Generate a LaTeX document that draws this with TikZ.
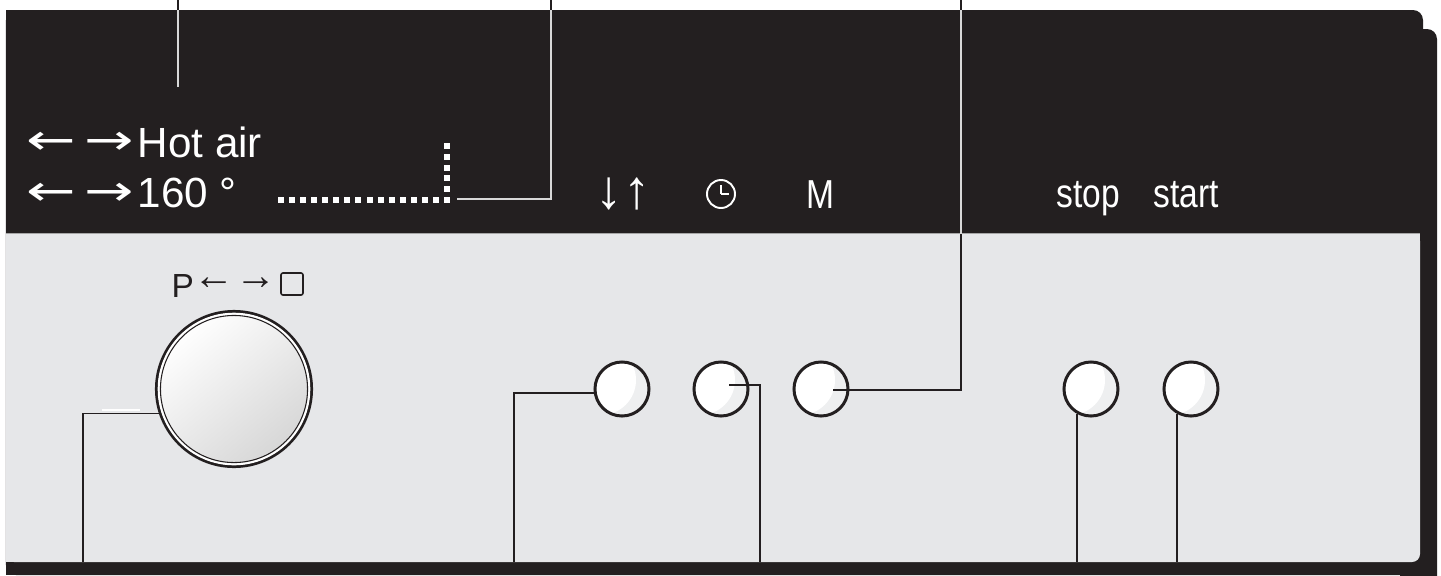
\documentclass[tikz,border=0pt]{standalone}
\usepackage{graphicx}
\usepackage{fontspec}
\setmainfont{Liberation Sans}
\newfontfamily\arrfont{Liberation Sans}
\newfontfamily\dvfont{DejaVu Sans}
\usetikzlibrary{calc}
\definecolor{panel}{HTML}{231F20}
\definecolor{face}{HTML}{E6E7E9}
\definecolor{leadlight}{HTML}{D8D8D8}
\definecolor{hilite}{HTML}{EEEFF0}
\newcommand\cArr[2]{\setbox0\hbox{#2}\dimen0=\dimexpr #1-(\ht0-\dp0)/2\relax\raise\dimen0\box0}
\newcommand\wArr[1]{\scalebox{1.4}[1]{#1}}
\tikzset{
  lead/.style={draw=panel, line width=0.45pt},
  leadl/.style={draw=leadlight, line width=0.45pt},
  btn/.style={circle, draw=panel, line width=0.85pt, fill=white, minimum size=0.54cm, inner sep=0pt,
    path picture={\fill[hilite] (path picture bounding box.south west) rectangle (path picture bounding box.north east);
      \fill[white] ($(path picture bounding box.center)+(-21,-9)$) circle[radius=0.35cm];}},
  wtxt/.style={text=white, inner sep=0pt, font=\fontsize{12}{13}\selectfont},
  ctxt/.style={text=white, inner sep=0pt, xscale=0.83, font=\fontsize{11.5}{13}\selectfont},
}
\newcommand\bigArr{\dvfont\fontsize{12}{13}\selectfont}
\newcommand\smArr{\arrfont\fontsize{11.7}{13}\selectfont}
\begin{document}
\begin{tikzpicture}[x=0.01cm,y=-0.01cm]
\useasboundingbox (0,0) rectangle (1441,575);
\fill[white] (0,0) rectangle (1441,575);
% dark housing
\fill[panel, rounded corners=0.1cm] (1400,29) rectangle (1437,600);
\fill[panel] (1400,500) rectangle (1437,575);
\fill[panel, rounded corners=0.1cm] (6,10) rectangle (1423,575);
\fill[panel] (6,10) rectangle (1400,575);
\fill[panel] (6,40) rectangle (1423,575);
% light face
\fill[face, rounded corners=0.08cm] (6,233) rectangle (1420,562);
\fill[face] (6,233) rectangle (1400,562);
\fill[face] (6,233) rectangle (1420,545);
\draw[gray!70, line width=0.3pt] (6,233.5) -- (1420,233.5);

% display texts
\node[wtxt, anchor=base west] (hot) at (26,157)
  {{\bigArr\cArr{3.8pt}{\wArr{←}}\kern2.4pt\cArr{3.8pt}{\wArr{→}}}\kern1pt Hot air};
\node[wtxt, anchor=base west] (deg) at (26,207)
  {{\bigArr\cArr{3.5pt}{\wArr{←}}\kern2.4pt\cArr{3.5pt}{\wArr{→}}}\kern1pt 160 °};
% dotted bar
\foreach \i in {0,...,15} \fill[white] ({278+11.07*\i},197) rectangle ++(6,6);
\foreach \j in {1,...,5} \fill[white] (444,{197-10.8*\j}) rectangle ++(6,6);
\coordinate (dotend) at (457,199);

% symbols
\node[text=white, inner sep=0pt, font=\arrfont\fontsize{15.5}{16}\selectfont, anchor=center] (updn) at (623,194) {↓↑};
\node[circle, draw=white, line width=0.55pt, minimum size=0.28cm, inner sep=0pt] (clock) at (721,194) {};
\draw[white, line width=0.55pt] (clock.center) -- ++(0,-9);
\draw[white, line width=0.55pt] (clock.center) -- ++(8,0);
\node[ctxt, anchor=base west] (mm) at (806,208) {M};
\node[ctxt, anchor=base west] (stp) at (1056,207) {stop};
\node[ctxt, anchor=base west] (strt) at (1153,207) {start};

% knob
\node[text=panel, inner sep=0pt, anchor=base west, font=\fontsize{9.5}{11}\selectfont] (pl) at (171,297)
  {P{\smArr\cArr{3.7pt}{←}\cArr{3.7pt}{→}}};
\node[draw=panel, line width=0.45pt, rounded corners=0.02cm, minimum size=0.22cm, inner sep=0pt] (sq) at (292,284) {};
\node[circle, draw=panel, line width=0.85pt, minimum size=1.55cm, inner sep=0pt,
  shading=axis, top color=white, bottom color={rgb,255:red,214;green,214;blue,214}, shading angle=40] (knob) at (234,389) {};
\draw[white, line width=0.6pt] (knob.center) circle[radius=0.752cm];
\draw[panel, line width=0.3pt] (knob.center) circle[radius=0.735cm];

% buttons
\node[btn] (b1) at (622,389) {};
\node[btn] (b2) at (721,389) {};
\node[btn] (b3) at (821,389) {};
\node[btn] (b4) at (1091,389) {};
\node[btn] (b5) at (1191,389) {};

% leader coordinates
\coordinate (base) at (0,562);
\coordinate (t1) at (178,0);
\coordinate (t1e) at (178,87);
\coordinate (t2) at (551,0);
\coordinate (t3) at (961,0);
\coordinate (k1) at (83,562);
\coordinate (l1) at (514,562);
\coordinate (l2) at (760,562);

% leaders
\draw[lead] (knob.198) -| (k1);
\draw[white, line width=0.5pt] (102,410.3) -- (140,410.3);
\draw[lead] (b1.188) -| (l1);
\draw[lead] ($(b2.center)+(8,-4)$) -| (l2);
\draw[lead] ($(b3.center)+(12,1)$) -| (t3);
\draw[lead] (b4.240) -- (b4.240 |- base);
\draw[lead] (b5.240) -- (b5.240 |- base);
\draw[lead] (t1) -- (t1e);
\draw[lead] (dotend) -| (t2);
\begin{scope}
\clip (6,10) rectangle (1423,233);
\draw[leadl] ($(b3.center)+(12,1)$) -| (t3);
\draw[leadl] (t1) -- (t1e);
\draw[leadl] (dotend) -| (t2);
\end{scope}
\end{tikzpicture}
\end{document}
